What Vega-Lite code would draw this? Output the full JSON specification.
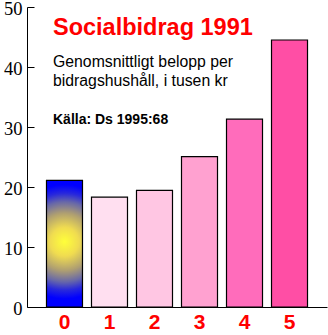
{
  "$schema": "https://vega.github.io/schema/vega-lite/v6.json",
  "width": 300,
  "height": 300,
  "autosize": {"type": "none"},
  "padding": {"left": 27, "top": 7, "right": 1, "bottom": 28},
  "background": "white",
  "config": {"view": {"stroke": null}, "font": "Liberation Sans"},
  "datasets": {
    "bidrag": [
      {"grupp": "0", "belopp": 21.1},
      {"grupp": "1", "belopp": 18.3},
      {"grupp": "2", "belopp": 19.45},
      {"grupp": "3", "belopp": 25.05},
      {"grupp": "4", "belopp": 31.3},
      {"grupp": "5", "belopp": 44.5}
    ]
  },
  "layer": [
    {
      "data": {"name": "bidrag"},
      "transform": [{"filter": "datum.grupp != '0'"}],
      "mark": {"type": "bar", "stroke": "black", "strokeWidth": 1.2},
      "encoding": {
        "x": {
          "field": "grupp",
          "type": "nominal",
          "scale": {"domain": ["0", "1", "2", "3", "4", "5"], "paddingInner": 0.2, "paddingOuter": 0.433},
          "axis": {
            "title": null,
            "labelAngle": 0,
            "ticks": false,
            "labelColor": "#ff0000",
            "labelFont": "Liberation Sans",
            "labelFontWeight": "bold",
            "labelFontSize": 21,
            "labelPadding": 4,
            "domainColor": "black",
            "domainWidth": 1
          }
        },
        "y": {
          "field": "belopp",
          "type": "quantitative",
          "scale": {"domain": [0, 50], "nice": false},
          "axis": {
            "title": null,
            "values": [0, 10, 20, 30, 40, 50],
            "grid": false,
            "tickSize": -7,
            "tickColor": "black",
            "tickWidth": 1,
            "domainColor": "black",
            "domainWidth": 1,
            "labelFont": "Liberation Serif",
            "labelFontSize": 18.5,
            "labelColor": "black",
            "labelPadding": 12,
            "labelOffset": 1.5
          }
        },
        "color": {
          "field": "grupp",
          "type": "nominal",
          "scale": {"domain": ["1", "2", "3", "4", "5"], "range": ["#ffdff0", "#ffc6e3", "#ffa1d0", "#ff6cbb", "#ff4ea5"]},
          "legend": null
        }
      }
    },
    {
      "data": {"name": "bidrag"},
      "transform": [{"filter": "datum.grupp == '0'"}],
      "mark": {
        "type": "bar",
        "stroke": "black",
        "strokeWidth": 1.2,
        "fill": {
          "gradient": "radial",
          "x1": 0.5, "y1": 0.485, "r1": 0,
          "x2": 0.5, "y2": 0.485, "r2": 0.45,
          "stops": [
            {"offset": 0, "color": "#ffff3a"},
            {"offset": 0.25, "color": "#f0dc50"},
            {"offset": 0.5, "color": "#b0a070"},
            {"offset": 0.7, "color": "#6868a8"},
            {"offset": 0.85, "color": "#2828dc"},
            {"offset": 1, "color": "#0000ff"}
          ]
        }
      },
      "encoding": {
        "x": {"field": "grupp", "type": "nominal"},
        "y": {"field": "belopp", "type": "quantitative"}
      }
    },
    {
      "data": {"values": [{"t": "Socialbidrag 1991"}]},
      "mark": {"type": "text", "align": "left", "baseline": "alphabetic", "dx": 6.5, "color": "#ff0000", "font": "Liberation Sans", "fontWeight": "bold", "fontSize": 23.5},
      "encoding": {
        "x": {"datum": "0", "type": "nominal", "bandPosition": 0},
        "y": {"datum": 45.33, "type": "quantitative"},
        "text": {"field": "t"}
      }
    },
    {
      "data": {"values": [{"t": ["Genomsnittligt belopp per", "bidragshushåll, i tusen kr"]}]},
      "mark": {"type": "text", "align": "left", "baseline": "alphabetic", "dx": 6.5, "color": "black", "font": "Liberation Sans", "fontSize": 15.8, "lineHeight": 19},
      "encoding": {
        "x": {"datum": "0", "type": "nominal", "bandPosition": 0},
        "y": {"datum": 39.95, "type": "quantitative"},
        "text": {"field": "t"}
      }
    },
    {
      "data": {"values": [{"t": "Källa: Ds 1995:68"}]},
      "mark": {"type": "text", "align": "left", "baseline": "alphabetic", "dx": 6.5, "color": "black", "font": "Liberation Sans", "fontWeight": "bold", "fontSize": 14},
      "encoding": {
        "x": {"datum": "0", "type": "nominal", "bandPosition": 0},
        "y": {"datum": 30.45, "type": "quantitative"},
        "text": {"field": "t"}
      }
    }
  ]
}
